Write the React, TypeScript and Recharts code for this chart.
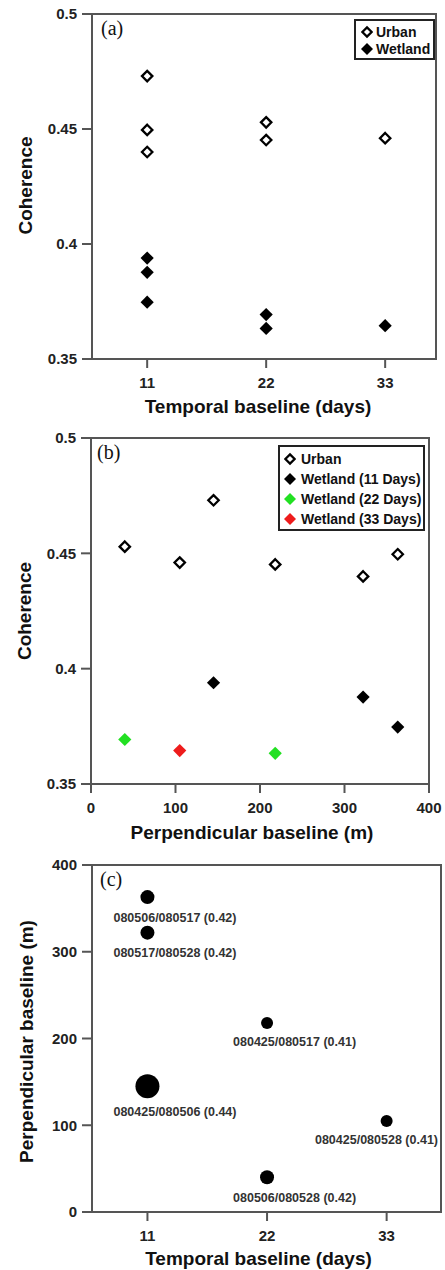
import { ScatterChart, Scatter, XAxis, YAxis, ReferenceArea, Legend } from 'recharts';

// one entry per interferometric pair
const pairNames = ['080506/080517', '080517/080528', '080425/080506', '080425/080517', '080506/080528', '080425/080528'];
const temporalDays = [11, 11, 11, 22, 22, 33];
const perpBaseline = [363, 322, 145, 218, 40, 105];
const urbanCoherence = [0.4496, 0.44, 0.473, 0.4452, 0.4529, 0.446];
const wetlandCoherence = [0.3747, 0.3877, 0.3939, 0.3633, 0.3693, 0.3645];
const pairCoherence = [0.42, 0.42, 0.44, 0.41, 0.42, 0.41];

const dayTicks = [11, 22, 33];
const cohTicks = [0.35, 0.4, 0.45, 0.5];
const perpTicks = [0, 100, 200, 300, 400];

const FONT = '"Liberation Sans", Arial, Helvetica, sans-serif';
const SERIF = '"Liberation Serif", "Times New Roman", serif';
const AXIS = '#555';
const GREEN = '#22e022';
const RED = '#ee1c1c';

const idx = pairNames.map((_, i) => i);
const urbanByDays = idx.map((i) => ({ x: temporalDays[i], y: urbanCoherence[i] }));
const wetlandByDays = idx.map((i) => ({ x: temporalDays[i], y: wetlandCoherence[i] }));
const urbanByPerp = idx.map((i) => ({ x: perpBaseline[i], y: urbanCoherence[i] }));
const wetlandByPerp = (d: number) =>
  idx.filter((i) => temporalDays[i] === d).map((i) => ({ x: perpBaseline[i], y: wetlandCoherence[i] }));
const pairs = idx.map((i) => ({ x: temporalDays[i], y: perpBaseline[i], name: pairNames[i], coh: pairCoherence[i] }));

function diamondPath(cx: number, cy: number, r: number) {
  return `M${cx},${cy - r}L${cx + r},${cy}L${cx},${cy + r}L${cx - r},${cy}Z`;
}

const openDiamond = (p: any) => (
  <path d={diamondPath(p.cx, p.cy, 5.2)} fill="#fff" stroke="#000" strokeWidth={2.3} />
);
const filledDiamond = (color: string) => (p: any) => <path d={diamondPath(p.cx, p.cy, 6.6)} fill={color} />;

const SERIES_STYLE: Record<string, { fill: string; open?: boolean }> = {
  Urban: { fill: '#fff', open: true },
  Wetland: { fill: '#000' },
  'Wetland (11 Days)': { fill: '#000' },
  'Wetland (22 Days)': { fill: GREEN },
  'Wetland (33 Days)': { fill: RED },
};

function legendBox(width: number, rowH: number, padLeft: number, gap: number) {
  return (props: any) => (
    <div
      style={{
        width,
        boxSizing: 'border-box',
        border: '2px solid #222',
        background: '#fff',
        padding: `2px 2px 0 ${padLeft}px`,
        fontFamily: FONT,
        fontWeight: 700,
        fontSize: 14,
        color: '#111',
      }}
    >
      {(props.payload || []).map((e: any) => {
        const st = SERIES_STYLE[e.value] || { fill: '#000' };
        return (
          <div key={e.value} style={{ height: rowH, display: 'flex', alignItems: 'center', whiteSpace: 'nowrap' }}>
            <svg width={12} height={14} style={{ marginRight: gap, flex: 'none' }}>
              {st.open ? (
                <path d={diamondPath(6, 7, 4.6)} fill="#fff" stroke="#000" strokeWidth={2.2} />
              ) : (
                <path d={diamondPath(6, 7, 6)} fill={st.fill} />
              )}
            </svg>
            <span>{e.value}</span>
          </div>
        );
      })}
    </div>
  );
}

const tickStyle = { fontSize: 15, fontWeight: 700, fill: '#222' };
const titleStyle = { fontSize: 19, fontWeight: 700, fill: '#111' };
const axisLine = { stroke: AXIS, strokeWidth: 2 };
const panelLabelStyle = { fontFamily: SERIF, fontSize: 20, fill: '#111' };

// panel (c) plot right edge, used to keep pair labels inside the frame
const C_W = 445;
const C_RIGHT_MARGIN = 4;
const C_PLOT_RIGHT = C_W - C_RIGHT_MARGIN;

function pairShape(p: any) {
  const d = p.payload.coh - 0.41;
  const r = 6 + 50 * d + 5000 * d * d;
  const labelW = 125;
  const left = p.cx - 34;
  const fits = left + labelW <= C_PLOT_RIGHT - 3;
  return (
    <g>
      <circle cx={p.cx} cy={p.cy} r={r} fill="#000" />
      <text
        x={fits ? left : C_PLOT_RIGHT - 3}
        y={p.cy + r + 17.5}
        textAnchor={fits ? 'start' : 'end'}
        fontSize={12.5}
        fontWeight={700}
        fill="#333"
      >
        {`${p.payload.name} (${p.payload.coh.toFixed(2)})`}
      </text>
    </g>
  );
}

export default function App() {
  return (
    <div style={{ position: 'absolute', left: 0, top: 0, width: 445, height: 1270, background: '#fff', fontFamily: FONT }}>
      {/* (a) coherence vs temporal baseline */}
      <div style={{ position: 'absolute', left: 0, top: 0 }}>
        <ScatterChart width={445} height={430} margin={{ top: 14, right: 9, bottom: 0, left: 0 }}>
          <ReferenceArea
            x1={5.9} x2={37.7} y1={0.35} y2={0.5}
            fill="none" stroke={AXIS} strokeWidth={2}
            label={{ value: '(a)', position: 'insideTopLeft', offset: 7, dx: 2, style: panelLabelStyle }}
          />
          <XAxis
            type="number" dataKey="x" domain={[5.9, 37.7]} ticks={dayTicks} allowDataOverflow
            height={71} tickSize={9} tickMargin={9} tick={tickStyle} axisLine={axisLine} tickLine={axisLine}
            label={{ value: 'Temporal baseline (days)', position: 'insideBottom', offset: 17, dx: -6, style: titleStyle }}
          />
          <YAxis
            type="number" dataKey="y" domain={[0.35, 0.5]} ticks={cohTicks} allowDataOverflow
            width={92} tickSize={10} tickMargin={5} tick={tickStyle} axisLine={axisLine} tickLine={axisLine}
            label={{ value: 'Coherence', angle: -90, position: 'insideLeft', offset: 25, dy: -1, style: { ...titleStyle, textAnchor: 'middle' } }}
          />
          <Legend
            layout="vertical" align="center" verticalAlign="middle"
            wrapperStyle={{ top: 19, left: 354 }}
            content={legendBox(81, 17.6, 5, 3)}
          />
          <Scatter name="Urban" data={urbanByDays} shape={openDiamond} isAnimationActive={false} />
          <Scatter name="Wetland" data={wetlandByDays} shape={filledDiamond('#000')} isAnimationActive={false} />
        </ScatterChart>
      </div>

      {/* (b) coherence vs perpendicular baseline */}
      <div style={{ position: 'absolute', left: 0, top: 420 }}>
        <ScatterChart width={445} height={430} margin={{ top: 18, right: 16, bottom: 0, left: 0 }}>
          <ReferenceArea
            x1={0} x2={400} y1={0.35} y2={0.5}
            fill="none" stroke={AXIS} strokeWidth={2}
            label={{ value: '(b)', position: 'insideTopLeft', offset: 7, dx: -1, style: panelLabelStyle }}
          />
          <XAxis
            type="number" dataKey="x" domain={[0, 400]} ticks={perpTicks} allowDataOverflow
            height={66} tickSize={9} tickMargin={9} tick={tickStyle} axisLine={axisLine} tickLine={axisLine}
            label={{ value: 'Perpendicular baseline (m)', position: 'insideBottom', offset: 11, dx: -8, style: titleStyle }}
          />
          <YAxis
            type="number" dataKey="y" domain={[0.35, 0.5]} ticks={cohTicks} allowDataOverflow
            width={91} tickSize={10} tickMargin={5} tick={tickStyle} axisLine={axisLine} tickLine={axisLine}
            label={{ value: 'Coherence', angle: -90, position: 'insideLeft', offset: 24, style: { ...titleStyle, textAnchor: 'middle' } }}
          />
          <Legend
            layout="vertical" align="center" verticalAlign="middle"
            wrapperStyle={{ top: 25, left: 278 }}
            content={legendBox(147, 20, 4, 5)}
          />
          <Scatter name="Urban" data={urbanByPerp} shape={openDiamond} isAnimationActive={false} />
          <Scatter name="Wetland (11 Days)" data={wetlandByPerp(11)} shape={filledDiamond('#000')} isAnimationActive={false} />
          <Scatter name="Wetland (22 Days)" data={wetlandByPerp(22)} shape={filledDiamond(GREEN)} isAnimationActive={false} />
          <Scatter name="Wetland (33 Days)" data={wetlandByPerp(33)} shape={filledDiamond(RED)} isAnimationActive={false} />
        </ScatterChart>
      </div>

      {/* (c) pair configuration, dot size ~ mean coherence */}
      <div style={{ position: 'absolute', left: 0, top: 840 }}>
        <ScatterChart width={C_W} height={430} margin={{ top: 25, right: C_RIGHT_MARGIN, bottom: 0, left: 0 }}>
          <ReferenceArea
            x1={5.9} x2={38} y1={0} y2={400}
            fill="none" stroke={AXIS} strokeWidth={2}
            label={{ value: '(c)', position: 'insideTopLeft', offset: 7, dx: 1, style: panelLabelStyle }}
          />
          <XAxis
            type="number" dataKey="x" domain={[5.9, 38]} ticks={dayTicks} allowDataOverflow
            height={58} tickSize={9} tickMargin={9} tick={tickStyle} axisLine={axisLine} tickLine={axisLine}
            label={{ value: 'Temporal baseline (days)', position: 'insideBottom', offset: 5, dx: -8, style: titleStyle }}
          />
          <YAxis
            type="number" dataKey="y" domain={[0, 400]} ticks={perpTicks} allowDataOverflow
            width={92} tickSize={10} tickMargin={5} tick={tickStyle} axisLine={axisLine} tickLine={axisLine}
            label={{ value: 'Perpendicular baseline (m)', angle: -90, position: 'insideLeft', offset: 26, dy: 3, style: { ...titleStyle, textAnchor: 'middle' } }}
          />
          <Scatter name="Pairs" data={pairs} shape={pairShape} isAnimationActive={false} />
        </ScatterChart>
      </div>
    </div>
  );
}
